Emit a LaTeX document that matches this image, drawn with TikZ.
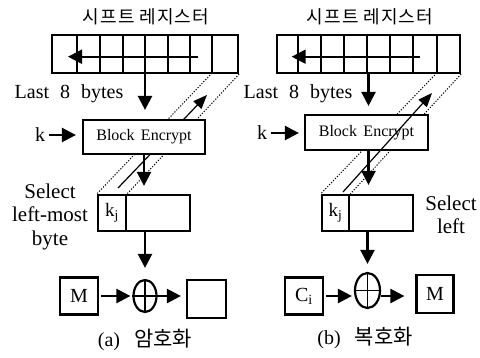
\documentclass[tikz,border=0pt]{standalone}
\usepackage{fontspec}
\setmainfont{Liberation Serif}
\newfontfamily\kr[LetterSpace=6]{Noto Sans CJK KR}
\newfontfamily\krcap{Noto Sans CJK KR}
\usetikzlibrary{arrows.meta,shapes.geometric,backgrounds}
\begin{document}
\begin{tikzpicture}[x=1pt,y=-1pt,
  box/.style={draw,line width=2.2pt,fill=white,inner sep=0pt},
  arr/.style={line width=2.4pt,-{Triangle[length=14pt,width=14pt]}},
  thinarr/.style={line width=1.2pt,-{Triangle[length=14pt,width=11pt]}},
  dotline/.style={line width=1pt,dash pattern=on 1.2pt off 1.6pt},
  divline/.style={line width=2pt},
  lbl/.style={font=\fontsize{20}{23.5}\selectfont,inner sep=0pt},
  sellbl/.style={font=\fontsize{21}{23.5}\selectfont,inner sep=0pt},
  small/.style={font=\fontsize{16}{18}\selectfont,inner sep=0pt},
  titlelbl/.style={font=\kr\fontsize{18}{20}\selectfont,inner sep=0pt},
  caplbl/.style={font=\fontsize{20}{22}\selectfont,inner sep=0pt},
  xor/.style={draw,ellipse,line width=2.2pt,inner sep=0pt}
]
\useasboundingbox (0,0) rectangle (480,357);

% ================= left panel (a) =================
\node[titlelbl] (titA) at (146,17) {시프트 레지스터};
\node[box,minimum width=186pt,minimum height=38pt] (regA) at (145,54) {};
\foreach \x in {77,100,122.5,145,167.5,190,212}
  \draw[divline] (\x,35) -- (\x,73);
\coordinate (shA1) at (198,56.7);
\coordinate (shA2) at (68,56.7);
\draw[line width=2pt,-{Triangle[length=14pt,width=14pt]}] (shA1) -- (shA2);

\node[lbl] (lastA) at (69,94) {Last\hspace{0.55em}8\hspace{0.55em}bytes};
\node[box,minimum width=122pt,minimum height=34pt,small] (blkA) at (144,137) {Block\hspace{0.4em}Encrypt};
\node[lbl] (kA) at (40,135) {k};
\node[box,minimum width=28pt,minimum height=36pt,font=\fontsize{19}{20}\selectfont] (kjA) at (112,213) {k\textsubscript{j}};
\node[box,minimum width=64pt,minimum height=36pt] (restA) at (158,213) {};
\node[sellbl,align=center] (selA) at (50,216.5) {Select\\left-most\\byte};
\node[xor,minimum width=23pt,minimum height=32pt] (xorA) at (145,296) {};
\draw[line width=1.8pt] (xorA.north) -- (xorA.south) (xorA.west) -- (xorA.east);
\node[box,minimum width=38pt,minimum height=37pt,lbl] (mA) at (79,296) {M};
\node[box,minimum width=39pt,minimum height=38pt] (outA) at (206.5,299) {};
\node[caplbl] (capA) at (145,340) {(a)\hspace{0.7em}{\krcap\fontsize{21}{22}\selectfont 암호화}};

\draw[arr,shorten >=9pt] (regA.south) -- (blkA.north -| regA.south);
\draw[arr,shorten <=4pt,shorten >=6pt] (kA.east) -- (kA.east -| blkA.west);
\draw[arr,shorten >=8pt] (blkA.south) -- (blkA.south |- kjA.north);
\draw[arr,shorten >=11pt] (xorA.north |- restA.south) -- (xorA.north);
\draw[arr,shorten <=2pt,shorten >=2pt] (mA.east) -- (xorA.west);
\draw[arr,shorten >=5pt] (xorA.east) -- (xorA.east -| outA.west);

\coordinate (dA1) at (212,73);
\coordinate (fbA1) at (118,188);
\coordinate (fbA2) at (207,95);
\begin{scope}[on background layer]
  \draw[dotline] (dA1) -- (kjA.north west);
  \draw[dotline] (regA.south east) -- (kjA.north east);
  \draw[thinarr] (fbA1) -- (fbA2);
\end{scope}

% ================= right panel (b) =================
\node[titlelbl] (titB) at (370,17) {시프트 레지스터};
\node[box,minimum width=183pt,minimum height=38pt] (regB) at (368.5,54) {};
\foreach \x in {298.3,321,344,366.7,390,413.3,436.7}
  \draw[divline] (\x,35) -- (\x,73);
\coordinate (shB1) at (420,56.7);
\coordinate (shB2) at (291.7,56.7);
\draw[line width=2pt,-{Triangle[length=14pt,width=14pt]}] (shB1) -- (shB2);

\node[lbl] (lastB) at (298,94) {Last\hspace{0.55em}8\hspace{0.55em}bytes};
\node[box,minimum width=123pt,minimum height=35pt,small] (blkB) at (366.5,132.5) {Block\hspace{0.4em}Encrypt};
\node[lbl] (kB) at (262,133) {k};
\node[box,minimum width=27.5pt,minimum height=36pt,font=\fontsize{19}{20}\selectfont] (kjB) at (335.5,213) {k\textsubscript{j}};
\node[box,minimum width=64pt,minimum height=36pt] (restB) at (381.3,213) {};
\node[sellbl,align=center] (selB) at (451,215) {Select\\left};
\node[xor,minimum width=25pt,minimum height=35pt] (xorB) at (367.5,290.5) {};
\draw[line width=1.8pt] (xorB.north) -- (xorB.south) (xorB.west) -- (xorB.east);
\node[box,minimum width=38pt,minimum height=37pt,lbl] (cB) at (304,296) {C\textsubscript{i}};
\node[box,minimum width=37pt,minimum height=38pt,lbl] (mB) at (435,294) {M};
\node[caplbl] (capB) at (365,338) {(b)\hspace{0.7em}{\krcap\fontsize{21}{22}\selectfont 복호화}};

\draw[arr,shorten >=8pt] (regB.south) -- (blkB.north -| regB.south);
\draw[arr,shorten <=4pt,shorten >=5pt] (kB.east) -- (kB.east -| blkB.west);
\draw[arr,shorten >=9pt] (blkB.south -| regB.south) -- (regB.south |- kjB.north);
\draw[arr,shorten >=8pt] (xorB.north |- restB.south) -- (xorB.north);
\draw[arr,shorten <=2pt,shorten >=2pt] (cB.east) -- (cB.east -| xorB.west);
\draw[arr,shorten >=11pt] (xorB.east |- cB.east) -- (mB.west |- cB.east);

\coordinate (dB1) at (436.7,73);
\coordinate (fbB1) at (343,192);
\coordinate (fbB2) at (432,93);
\begin{scope}[on background layer]
  \draw[dotline] (dB1) -- (kjB.north west);
  \draw[dotline] (regB.south east) -- (kjB.north east);
\end{scope}
\draw[thinarr] (fbB1) -- (fbB2);
\end{tikzpicture}
\end{document}
